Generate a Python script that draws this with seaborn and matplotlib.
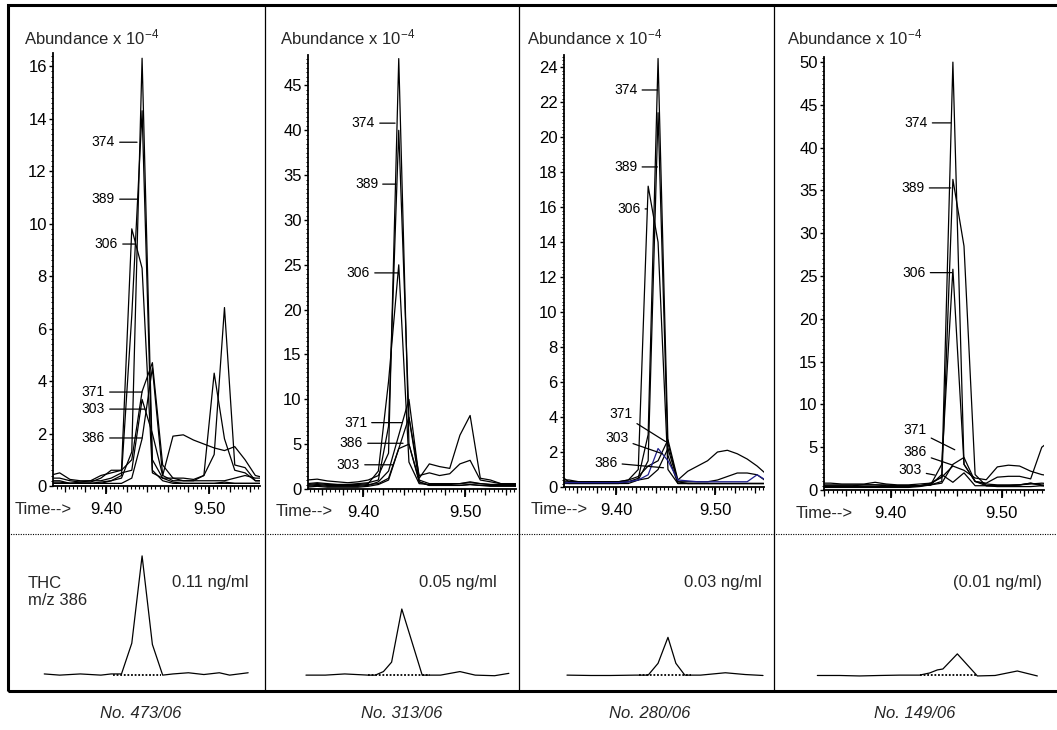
import matplotlib
matplotlib.use("Agg")
import matplotlib.pyplot as plt
import seaborn as sns
from matplotlib.lines import Line2D
from matplotlib.patches import Rectangle
from matplotlib.ticker import FixedLocator, FormatStrFormatter, MultipleLocator

FIG_W, FIG_H = 1057, 730

SAMPLES = ["No. 473/06", "No. 313/06", "No. 280/06", "No. 149/06"]
CONCENTRATIONS = ["0.11 ng/ml", "0.05 ng/ml", "0.03 ng/ml", "(0.01 ng/ml)"]
IONS = ["374", "389", "306", "371", "303", "386"]

# --- selected ion traces (abundance x 1e-4) ---------------------------------
P1_TIME = [9.345, 9.355, 9.365, 9.375, 9.385, 9.395, 9.405, 9.415, 9.425, 9.435, 9.445,
           9.455, 9.465, 9.475, 9.485, 9.495, 9.505, 9.515, 9.525, 9.535, 9.545, 9.555]
P1_374 = [0.15, 0.15, 0.1, 0.1, 0.1, 0.15, 0.2, 0.3, 1.3, 16.3, 1.0, 0.3, 0.15, 0.1, 0.1, 0.1, 0.1, 0.15, 0.1, 0.1, 0.1, 0.1]
P1_389 = [0.1, 0.1, 0.1, 0.1, 0.1, 0.1, 0.2, 0.4, 6.5, 14.3, 0.6, 0.2, 0.1, 0.1, 0.1, 0.1, 0.1, 0.1, 0.1, 0.1, 0.1, 0.1]
P1_306 = [0.4, 0.5, 0.25, 0.2, 0.2, 0.4, 0.5, 0.6, 9.8, 8.3, 0.5, 0.3, 0.3, 0.3, 0.25, 0.4, 4.3, 1.8, 0.6, 0.5, 0.2, 0.2]
P1_371 = [0.2, 0.2, 0.1, 0.15, 0.15, 0.3, 0.6, 0.6, 1.0, 3.6, 4.7, 0.8, 0.3, 0.2, 0.2, 0.4, 1.2, 6.8, 0.8, 0.7, 0.2, 0.2]
P1_303 = [0.3, 0.3, 0.2, 0.15, 0.2, 0.2, 0.3, 0.5, 0.6, 3.3, 2.0, 0.4, 1.9, 1.95, 1.75, 1.6, 1.45, 1.35, 1.5, 1.0, 0.4, 0.3]
P1_386 = [0.1, 0.1, 0.1, 0.1, 0.1, 0.1, 0.1, 0.1, 0.3, 1.8, 4.5, 0.4, 0.2, 0.2, 0.2, 0.2, 0.2, 0.2, 0.3, 0.4, 0.3, 0.3]

P2_TIME = P1_TIME
P2_374 = [1.0, 1.1, 0.9, 0.8, 0.7, 0.8, 1.0, 1.5, 4.0, 48.0, 5.0, 1.0, 0.6, 0.6, 0.6, 0.6, 0.7, 0.6, 0.5, 0.5, 0.5, 0.5]
P2_389 = [0.6, 0.7, 0.6, 0.5, 0.5, 0.6, 0.7, 1.0, 7.0, 40.0, 8.0, 0.8, 0.4, 0.4, 0.4, 0.4, 0.5, 0.4, 0.4, 0.4, 0.4, 0.4]
P2_306 = [0.5, 0.6, 0.5, 0.5, 0.5, 0.5, 0.6, 2.0, 12.0, 25.0, 3.0, 0.6, 0.5, 0.5, 0.5, 0.6, 0.8, 0.6, 0.5, 0.5, 0.4, 0.4]
P2_371 = [0.3, 0.4, 0.3, 0.3, 0.3, 0.3, 0.4, 0.8, 2.0, 6.0, 10.0, 1.2, 2.8, 2.5, 2.3, 6.0, 8.2, 1.2, 1.0, 0.6, 0.6, 0.5]
P2_303 = [0.2, 0.3, 0.2, 0.2, 0.2, 0.2, 0.3, 0.5, 1.0, 4.5, 5.0, 0.8, 0.4, 0.4, 0.4, 0.4, 0.5, 0.4, 0.3, 0.3, 0.3, 0.3]
P2_386 = [0.4, 0.5, 0.4, 0.4, 0.4, 0.4, 0.5, 0.6, 1.2, 4.5, 8.0, 1.5, 1.8, 1.5, 1.7, 2.8, 3.2, 1.0, 0.8, 0.6, 0.6, 0.6]

P3_TIME = [9.342, 9.352, 9.362, 9.372, 9.382, 9.392, 9.402, 9.412, 9.422, 9.432, 9.442,
           9.452, 9.462, 9.472, 9.482, 9.492, 9.502, 9.512, 9.522, 9.532, 9.542, 9.552]
P3_374 = [0.3, 0.2, 0.2, 0.2, 0.2, 0.2, 0.2, 0.3, 0.5, 3.0, 24.5, 2.5, 0.3, 0.2, 0.2, 0.2, 0.2, 0.2, 0.2, 0.2, 0.2, 0.2]
P3_389 = [0.2, 0.2, 0.2, 0.2, 0.2, 0.2, 0.2, 0.2, 0.4, 1.5, 21.4, 1.8, 0.2, 0.2, 0.2, 0.2, 0.2, 0.2, 0.2, 0.2, 0.2, 0.2]
P3_306 = [0.7, 0.3, 0.3, 0.3, 0.3, 0.3, 0.3, 0.4, 1.0, 17.2, 14.0, 1.0, 0.2, 0.2, 0.2, 0.2, 0.2, 0.2, 0.2, 0.2, 0.2, 0.2]
P3_371 = [0.4, 0.4, 0.3, 0.3, 0.3, 0.3, 0.3, 0.4, 0.6, 1.2, 1.5, 2.7, 0.4, 0.9, 1.2, 1.5, 2.0, 2.1, 1.9, 1.6, 1.2, 0.7]
P3_303 = [0.3, 0.3, 0.3, 0.3, 0.3, 0.3, 0.3, 0.3, 0.4, 0.5, 1.0, 2.2, 0.3, 0.3, 0.3, 0.3, 0.4, 0.6, 0.8, 0.8, 0.7, 0.3]
P3_386 = [0.2, 0.25, 0.25, 0.25, 0.25, 0.25, 0.25, 0.3, 0.4, 0.7, 2.2, 1.5, 0.4, 0.35, 0.3, 0.3, 0.3, 0.3, 0.3, 0.3, 0.7, 0.35]

P4_TIME = [9.336, 9.346, 9.356, 9.366, 9.376, 9.386, 9.396, 9.406, 9.416, 9.426, 9.436,
           9.446, 9.456, 9.466, 9.476, 9.486, 9.496, 9.506, 9.516, 9.526, 9.536, 9.546]
P4_374 = [0.8, 0.8, 0.7, 0.7, 0.7, 0.9, 0.7, 0.6, 0.6, 0.7, 0.8, 1.5, 50.0, 3.0, 1.0, 0.7, 0.6, 0.6, 0.6, 0.7, 0.8, 0.7]
P4_389 = [0.5, 0.5, 0.5, 0.5, 0.6, 0.6, 0.5, 0.5, 0.5, 0.5, 0.6, 1.0, 36.3, 28.5, 1.8, 0.5, 0.4, 0.4, 0.4, 0.4, 0.5, 0.4]
P4_306 = [0.6, 0.6, 0.6, 0.6, 0.6, 0.6, 0.6, 0.5, 0.5, 0.5, 0.6, 3.0, 25.8, 3.0, 1.0, 0.5, 0.5, 0.5, 0.6, 0.8, 0.5, 0.5]
P4_371 = [0.3, 0.3, 0.3, 0.3, 0.3, 0.3, 0.3, 0.3, 0.3, 0.4, 0.6, 0.8, 3.0, 3.8, 1.0, 0.8, 1.5, 1.6, 1.6, 1.3, 5.0, 6.0]
P4_303 = [0.4, 0.4, 0.4, 0.4, 0.4, 0.4, 0.4, 0.4, 0.4, 0.5, 0.6, 1.8, 0.9, 2.0, 0.5, 0.5, 0.5, 0.5, 0.6, 0.8, 0.6, 0.5]
P4_386 = [0.4, 0.4, 0.4, 0.4, 0.4, 0.4, 0.4, 0.4, 0.4, 0.5, 0.8, 1.5, 2.8, 2.3, 1.4, 1.2, 2.7, 2.9, 2.8, 2.2, 1.8, 1.6]

# --- THC m/z 386 traces (relative to the 473/06 peak) -----------------------
B1_TIME = [9.340, 9.355, 9.375, 9.395, 9.405, 9.415, 9.425, 9.435, 9.445, 9.455, 9.465, 9.480, 9.495, 9.510, 9.520, 9.538]
B1_VAL = [0.0, -0.01, 0.0, -0.01, 0.0, 0.0, 0.26, 1.0, 0.25, -0.01, 0.0, 0.01, -0.005, 0.01, -0.01, 0.01]
B2_TIME = [9.344, 9.363, 9.382, 9.405, 9.412, 9.420, 9.428, 9.438, 9.458, 9.476, 9.495, 9.510, 9.529, 9.543]
B2_VAL = [-0.01, -0.01, 0.0, -0.01, -0.01, 0.02, 0.10, 0.55, -0.01, -0.01, 0.02, -0.01, -0.015, 0.005]
B3_TIME = [9.350, 9.374, 9.394, 9.419, 9.432, 9.442, 9.452, 9.460, 9.469, 9.485, 9.510, 9.530, 9.548]
B3_VAL = [-0.01, -0.013, -0.013, -0.01, -0.01, 0.09, 0.31, 0.09, -0.01, -0.01, 0.01, -0.005, -0.013]
B4_TIME = [9.334, 9.354, 9.372, 9.390, 9.408, 9.426, 9.435, 9.442, 9.447, 9.460, 9.478, 9.494, 9.514, 9.532]
B4_VAL = [-0.013, -0.013, -0.017, -0.013, -0.01, -0.01, 0.008, 0.034, 0.042, 0.17, -0.017, -0.013, 0.025, -0.017]
# integration baselines (start, end)
B_BASELINE = [(9.407, 9.453), (9.405, 9.466), (9.423, 9.475), (9.426, 9.478)]

# --- peak label leaders: (ion, text x, text y, line end x, line end y) ------
P1_LABELS = [("374", 9.4087, 13.1, 9.4301, 13.1), ("389", 9.4087, 10.93, 9.4311, 10.93),
             ("306", 9.4117, 9.22, 9.4282, 9.22), ("371", 9.3990, 3.58, 9.4350, 3.58),
             ("303", 9.3990, 2.93, 9.4379, 2.93), ("386", 9.3990, 1.83, 9.4350, 1.83)]
P2_LABELS = [("374", 9.4118, 40.8, 9.4314, 40.8), ("389", 9.4147, 34.0, 9.4324, 34.0),
             ("306", 9.4069, 24.1, 9.4343, 24.1), ("371", 9.4039, 7.4, 9.4382, 7.4),
             ("386", 9.4000, 5.1, 9.4392, 5.1), ("303", 9.3971, 2.7, 9.4294, 2.7)]
P3_LABELS = [("374", 9.4212, 22.7, 9.4414, 22.7), ("389", 9.4212, 18.3, 9.4414, 18.3),
             ("306", 9.4242, 15.9, 9.4313, 15.9), ("371", 9.4162, 4.2, 9.4495, 2.6),
             ("303", 9.4121, 2.8, 9.4465, 1.9), ("386", 9.4010, 1.4, 9.4475, 1.1)]
P4_LABELS = [("374", 9.4333, 42.9, 9.4541, 42.9), ("389", 9.4306, 35.3, 9.4541, 35.3),
             ("306", 9.4315, 25.4, 9.4550, 25.4), ("371", 9.4324, 7.0, 9.4577, 4.7),
             ("386", 9.4324, 4.4, 9.4559, 2.9), ("303", 9.4279, 2.3, 9.4396, 1.75)]

# --- layout (pixels) ---------------------------------------------------------
AX_LEFT = [53, 308, 564, 824]
AX_RIGHT = [260, 516, 764, 1044]
AX_TOP = [53, 55, 55, 57]
AX_BOTTOM = [486, 489, 487, 490]
XLIMS = [(9.3485, 9.5495), (9.346, 9.550), (9.347, 9.549), (9.340, 9.538)]
YMAX = [16.5, 48.4, 24.7, 50.6]
YSTEP = [2, 5, 2, 5]
YMINOR = [0.2, 0.5, 0.2, 0.5]
TITLE_X = [24, 280, 527, 787]
TIME_X = [15, 276, 531, 796]
CONC_X = [248, 497, 762, 1042]
SAMPLE_X = [141, 402, 650, 915]
DIVIDERS = [265, 519, 774]
BLUE = "#1f1f8c"


def fx(px):
    return px / FIG_W


def fy(py):
    return 1 - py / FIG_H


def make_axes(fig, left, top, right, bottom):
    return fig.add_axes([fx(left), fy(bottom), fx(right) - fx(left), (bottom - top) / FIG_H])


def style_top_axes(ax, i):
    ax.set_xlim(*XLIMS[i])
    ax.set_ylim(0, YMAX[i])
    for side in ["top", "right"]:
        ax.spines[side].set_visible(False)
    for side in ["left", "bottom"]:
        ax.spines[side].set_color("black")
        ax.spines[side].set_linewidth(1.3)
    ax.xaxis.set_major_locator(FixedLocator([9.40, 9.50]))
    ax.xaxis.set_major_formatter(FormatStrFormatter("%.2f"))
    ax.xaxis.set_minor_locator(MultipleLocator(0.004))
    ax.yaxis.set_major_locator(MultipleLocator(YSTEP[i]))
    ax.yaxis.set_minor_locator(MultipleLocator(YMINOR[i]))
    ax.tick_params(which="both", bottom=True, left=True, top=False, right=False)
    ax.tick_params(axis="x", which="major", direction="out", length=6, width=1.3,
                   pad=5.5, labelsize=12, colors="black")
    ax.tick_params(axis="x", which="minor", direction="out", length=2.5, width=0.8, colors="black")
    ax.tick_params(axis="y", which="major", direction="out", length=3, width=1.0,
                   pad=1.5, labelsize=12, colors="black")
    ax.tick_params(axis="y", which="minor", direction="out", length=1.6, width=0.7, colors="black")
    ax.set_xlabel("")
    ax.set_ylabel("")
    ax.grid(False)

    sec = ax.secondary_xaxis("bottom")
    sec.xaxis.set_major_locator(MultipleLocator(0.02))
    sec.tick_params(axis="x", which="both", bottom=True, direction="out", length=4,
                    width=0.9, labelbottom=False, colors="black")
    sec.spines["bottom"].set_visible(False)


def main():
    sns.set_theme(style="white")
    plt.rcParams["font.family"] = ["Liberation Sans", "DejaVu Sans"]
    plt.rcParams["mathtext.default"] = "regular"

    fig = plt.figure(figsize=(FIG_W / 100, FIG_H / 100), dpi=100)

    top_data = [
        (P1_TIME, [P1_374, P1_389, P1_306, P1_371, P1_303, P1_386], P1_LABELS),
        (P2_TIME, [P2_374, P2_389, P2_306, P2_371, P2_303, P2_386], P2_LABELS),
        (P3_TIME, [P3_374, P3_389, P3_306, P3_371, P3_303, P3_386], P3_LABELS),
        (P4_TIME, [P4_374, P4_389, P4_306, P4_371, P4_303, P4_386], P4_LABELS),
    ]
    bottom_data = [(B1_TIME, B1_VAL), (B2_TIME, B2_VAL), (B3_TIME, B3_VAL), (B4_TIME, B4_VAL)]

    for i, (time, traces, labels) in enumerate(top_data):
        ax = make_axes(fig, AX_LEFT[i], AX_TOP[i], AX_RIGHT[i], AX_BOTTOM[i])
        ax.patch.set_alpha(0)
        for ion, values in zip(IONS, traces):
            color = BLUE if (i == 2 and ion == "386") else "black"
            sns.lineplot(x=time, y=values, ax=ax, color=color, linewidth=0.9,
                         estimator=None, sort=False)
        style_top_axes(ax, i)

        for ion, tx, ty, ex, ey in labels:
            ax.annotate(ion, xy=(ex, ey), xytext=(tx, ty), ha="right", va="center",
                        fontsize=10, color="black",
                        arrowprops=dict(arrowstyle="-", color="black", lw=0.9,
                                        shrinkA=1, shrinkB=0))

        fig.text(fx(TITLE_X[i]), fy(37), r"Abundance x 10$^{-4}$", fontsize=12,
                 ha="left", va="center")
        fig.text(fx(TIME_X[i]), fy(AX_BOTTOM[i] + 23), "Time-->", fontsize=12,
                 ha="left", va="center")

        # THC m/z 386 trace underneath, same time scale
        bx = make_axes(fig, AX_LEFT[i], 537, AX_RIGHT[i], 690)
        bx.patch.set_alpha(0)
        bt, bv = bottom_data[i]
        sns.lineplot(x=bt, y=bv, ax=bx, color="black", linewidth=0.9,
                     estimator=None, sort=False, clip_on=False)
        b0, b1 = B_BASELINE[i]
        bx.plot([b0, b1], [-0.005, -0.005], color="black", linewidth=1.3,
                linestyle=(0, (1, 1)), clip_on=False)
        bx.set_xlim(*XLIMS[i])
        bx.set_ylim(-0.136, 1.16)
        bx.set_axis_off()

        fig.text(fx(CONC_X[i]), fy(582), CONCENTRATIONS[i], fontsize=12, ha="right", va="center")
        fig.text(fx(SAMPLE_X[i]), fy(714), SAMPLES[i], fontsize=12, ha="center",
                 va="center", style="italic")

    fig.text(fx(28), fy(592), "THC\nm/z 386", fontsize=12, ha="left", va="center",
             linespacing=1.2)

    # outer frame, dividers and the dotted separator
    fig.add_artist(Rectangle((fx(8), fy(691)), fx(1070) - fx(8), (691 - 5) / FIG_H,
                             transform=fig.transFigure, fill=False, edgecolor="black",
                             linewidth=2.2))
    for xd in DIVIDERS:
        fig.add_artist(Line2D([fx(xd), fx(xd)], [fy(691), fy(5)], transform=fig.transFigure,
                              color="black", linewidth=0.9))
    fig.add_artist(Line2D([fx(8), fx(1057)], [fy(534), fy(534)], transform=fig.transFigure,
                          color="black", linewidth=0.8, linestyle=(0, (1, 1.2))))

    fig.savefig("out.png", dpi=100, facecolor="white")


if __name__ == "__main__":
    main()
